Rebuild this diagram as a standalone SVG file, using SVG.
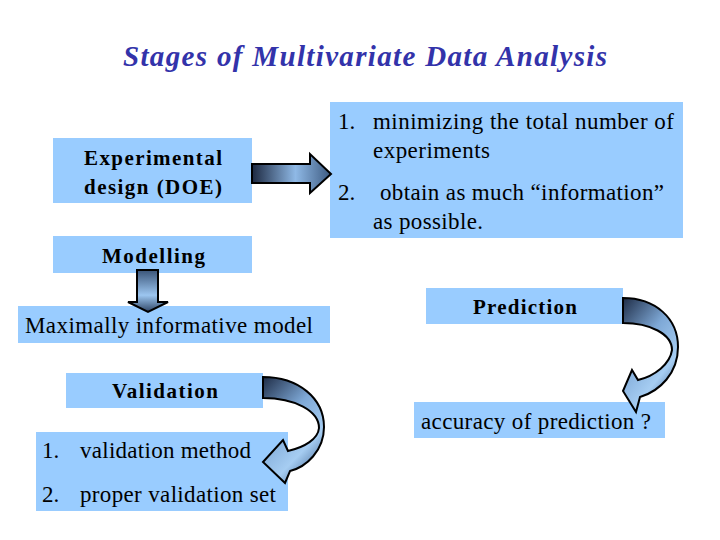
<svg xmlns="http://www.w3.org/2000/svg" width="720" height="540" viewBox="0 0 720 540">
<defs>
<style>
.box{fill:#99ccff}
.t{font-family:'Liberation Serif','Times New Roman',Times,'DejaVu Serif',serif;fill:#000;font-size:23px}
.b{font-weight:bold;font-size:21px}
.title{font-family:'Liberation Serif','Times New Roman',Times,'DejaVu Serif',serif;font-size:29px;font-weight:bold;font-style:italic;fill:#3333aa}
.arr{stroke:#000;stroke-width:2;stroke-linejoin:miter}
</style>
<linearGradient id="gH" x1="0" y1="0" x2="1" y2="0">
<stop offset="0" stop-color="#1c2840"/>
<stop offset="0.55" stop-color="#8fb9e6"/>
<stop offset="1" stop-color="#3d5a80"/>
</linearGradient>
<linearGradient id="gV" x1="0" y1="0" x2="0" y2="1">
<stop offset="0" stop-color="#3a5478"/>
<stop offset="0.6" stop-color="#9cc6f0"/>
<stop offset="1" stop-color="#2e4464"/>
</linearGradient>
<linearGradient id="gC" x1="0" y1="0" x2="0.6" y2="1">
<stop offset="0" stop-color="#1e2c46"/>
<stop offset="0.45" stop-color="#7ea8d6"/>
<stop offset="0.8" stop-color="#a6cdf2"/>
<stop offset="1" stop-color="#5d82ae"/>
</linearGradient>
</defs>
<rect width="720" height="540" fill="#fff"/>
<text class="title" x="123" y="66" textLength="484" lengthAdjust="spacing">Stages of Multivariate Data Analysis</text>

<g id="doe">
<rect class="box" x="53" y="138" width="199" height="65"/>
<text class="t b" x="84" y="165" textLength="138" lengthAdjust="spacing">Experimental</text>
<text class="t b" x="84" y="194" textLength="138" lengthAdjust="spacing">design (DOE)</text>
</g>
<g id="goals">
<rect class="box" x="330" y="102" width="353" height="136"/>
<text class="t" x="338" y="129">1.</text>
<text class="t" x="373" y="129" textLength="301" lengthAdjust="spacing">minimizing the total number of</text>
<text class="t" x="373" y="158" textLength="117" lengthAdjust="spacing">experiments</text>
<text class="t" x="338" y="200">2.</text>
<text class="t" x="380" y="200" textLength="284" lengthAdjust="spacing">obtain as much “information”</text>
<text class="t" x="373" y="229" textLength="110" lengthAdjust="spacing">as possible.</text>
</g>
<g id="modelling">
<rect class="box" x="53" y="236" width="199" height="37"/>
<text class="t b" x="102" y="263" textLength="103" lengthAdjust="spacing">Modelling</text>
</g>
<g id="model">
<rect class="box" x="18" y="306" width="312" height="37"/>
<text class="t" x="25" y="333" textLength="288" lengthAdjust="spacing">Maximally informative model</text>
</g>
<g id="prediction">
<rect class="box" x="426" y="288" width="197" height="36"/>
<text class="t b" x="473" y="314" textLength="104" lengthAdjust="spacing">Prediction</text>
</g>
<g id="accuracy">
<rect class="box" x="414" y="402" width="251" height="36"/>
<text class="t" x="421" y="429" textLength="230" lengthAdjust="spacing">accuracy of prediction ?</text>
</g>
<g id="validation">
<rect class="box" x="66" y="373" width="197" height="35"/>
<text class="t b" x="112" y="398" textLength="106" lengthAdjust="spacing">Validation</text>
</g>
<g id="valset">
<rect class="box" x="36" y="432" width="252" height="79"/>
<text class="t" x="42" y="458">1.</text>
<text class="t" x="80" y="458" textLength="171" lengthAdjust="spacing">validation method</text>
<text class="t" x="42" y="502">2.</text>
<text class="t" x="80" y="502" textLength="196" lengthAdjust="spacing">proper validation set</text>
</g>

<g id="connectors">
<path class="arr" fill="url(#gH)" d="M252 164 L310 164 L310 154 L331 174 L310 193 L310 183 L252 183 Z"/>
<path class="arr" fill="url(#gV)" d="M137 270 L158 270 L158 302 L168 302 L148 312 L128 302 L137 302 Z"/>
<path class="arr" fill="url(#gC)" d="M623 298 C655 298 678 318 678 347 C678 373 660 391 640 397 L636 412 L623 391 L632 370 L638 380 C655 376 670 364 672 350 C672 334 650 323 623 323 Z"/>
<path class="arr" fill="url(#gC)" d="M263 377 C298 377 324 398 324 427 C324 451 306 467 290 471 L285 483 L263 462 L283 440 L288 451 C305 447 318 439 319 428 C319 411 295 398 263 398 Z"/>
</g>
</svg>
